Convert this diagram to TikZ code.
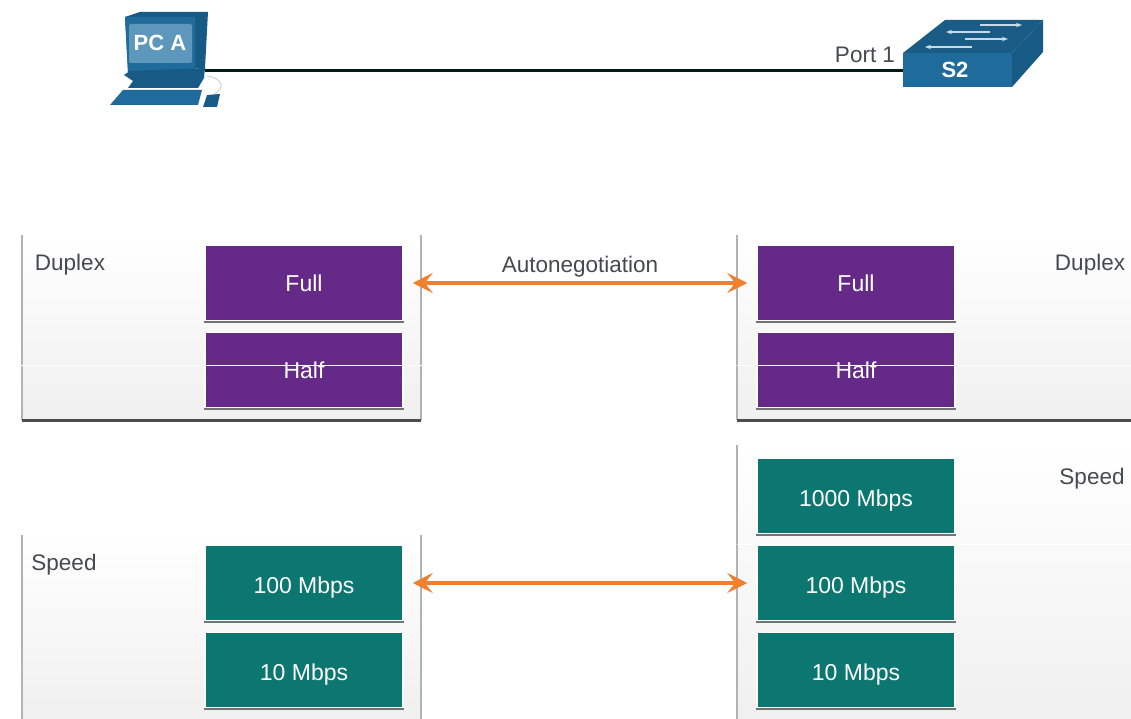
\documentclass[tikz,border=0pt]{standalone}
\usepackage{fontspec}
\setmainfont{Liberation Sans}
\usetikzlibrary{arrows.meta,shadows}
\definecolor{duplexpurple}{HTML}{652A87}
\definecolor{speedteal}{HTML}{0C7670}
\definecolor{negorange}{HTML}{F08030}
\definecolor{ciscoblue}{HTML}{1F6C9C}
\definecolor{ciscolight}{HTML}{5E97BC}
\definecolor{ciscodark}{HTML}{175A85}
\definecolor{labelgrey}{HTML}{454A50}
\tikzset{
    panel/.style={shade, top color=white, bottom color=black!6, minimum height=0pt, inner sep=0pt},
    panelside/.style={draw=black!30, line width=2pt},
    panelbase/.style={draw=black!70, line width=3pt},
    optionbox/.style={draw=white, line width=1.5pt, text=white, inner sep=0pt, minimum width=198pt, minimum height=75pt,
        font=\fontsize{23}{27}\selectfont, drop shadow={shadow xshift=0pt, shadow yshift=-2pt, shadow scale=1.012, fill=black!55, opacity=1}},
    duplexbox/.style={optionbox, fill=duplexpurple},
    speedbox/.style={optionbox, fill=speedteal, text height=26pt, text depth=4.6pt},
    plainlabel/.style={text=labelgrey, inner sep=0pt, font=\fontsize{22.5}{27}\selectfont},
    negotiate/.style={draw=negorange, line width=3.5pt, {Stealth[length=20pt,width=20pt,inset=8pt]}-{Stealth[length=20pt,width=20pt,inset=8pt]}, shorten <=9pt, shorten >=9pt},
    scanline/.style={draw=white, line width=0.7pt}
}
\begin{document}
\begin{tikzpicture}[x=1pt,y=-1pt]
    \useasboundingbox (0,0) rectangle (1131,719);
    \fill[white] (0,0) rectangle (1131,719);

    % pc
    \fill[ciscodark] (125,17) -- (140,12) -- (208,12) -- (205,68) -- (128,72) -- cycle;
    \fill[ciscoblue] (125,17) -- (195,17) -- (195,70) -- (128,72) -- cycle;
    \fill[ciscolight, rounded corners=2pt] (129,24) rectangle (192,63);
    \fill[ciscodark] (124,75) -- (130,71) -- (205,68) -- (204,78) -- (198,88) -- (128,88) -- (133,81) -- cycle;
    \fill[ciscoblue] (110,105) -- (123,90) -- (202,90) -- (198,105) -- cycle;
    \fill[ciscodark] (203,107) -- (207,95) -- (220,94) -- (217,107) -- cycle;
    \draw[black!25, line width=0.6pt] (207,76) .. controls (222,78) and (226,88) .. (214,94);
    \node[text=white, inner sep=0pt, font=\bfseries\fontsize{22}{26}\selectfont] (pcname) at (160,43) {PC A};
    \coordinate (pcport) at (205,71);

    % switch
    \fill[ciscodark] (1012,53) -- (1043,20) -- (1043,52) -- (1012,87) -- cycle;
    \fill[ciscoblue!85!black] (903,53) -- (945,20) -- (1043,20) -- (1012,53) -- cycle;
    \fill[ciscoblue] (903,53) rectangle (1012,87);
    \draw[white!75!ciscoblue, line width=2pt, -{Stealth[length=6pt]}] (980,25) -- (1022,25);
    \draw[white!75!ciscoblue, line width=2pt, -{Stealth[length=6pt]}] (990,32) -- (946,32);
    \draw[white!75!ciscoblue, line width=2pt, -{Stealth[length=6pt]}] (965,39) -- (1008,39);
    \draw[white!75!ciscoblue, line width=2pt, -{Stealth[length=6pt]}] (972,47) -- (925,47);
    \node[text=white, inner sep=0pt, font=\bfseries\fontsize{22}{26}\selectfont] (swname) at (955,70) {S2};
    \coordinate (swport) at (903,71);
    \node[plainlabel] (portname) at (865,55) {Port 1};
    \draw[draw=black!80!teal, line width=3pt] (pcport) -- (swport);

    % panels
    \node[panel, minimum width=399pt, minimum height=185pt] (pcduplex) at (221.5,327.5) {};
    \node[panel, minimum width=394pt, minimum height=185pt] (swduplex) at (934,327.5) {};
    \node[panel, minimum width=399pt, minimum height=184pt] (pcspeed) at (221.5,627) {};
    \node[panel, minimum width=394pt, minimum height=274pt] (swspeed) at (934,582) {};
    \draw[panelside] (pcduplex.south west) -- (pcduplex.north west);
    \draw[panelside] (pcduplex.south east) -- (pcduplex.north east);
    \draw[panelside] (swduplex.south west) -- (swduplex.north west);
    \draw[panelside] (pcspeed.south west) -- (pcspeed.north west);
    \draw[panelside] (pcspeed.south east) -- (pcspeed.north east);
    \draw[panelside] (swspeed.south west) -- (swspeed.north west);
    \draw[panelbase] (pcduplex.south west) -- (pcduplex.south east);
    \draw[panelbase] (swduplex.south west) -- (swduplex.south east);
    \node[plainlabel] (pcduplexname) at (70,265) {Duplex};
    \node[plainlabel] (swduplexname) at (1090,265) {Duplex};
    \node[plainlabel] (pcspeedname) at (64,565) {Speed};
    \node[plainlabel] (swspeedname) at (1092,479) {Speed};

    % options
    \node[duplexbox] (pcfull) at (304,283) {Full};
    \node[duplexbox] (pchalf) at (304,370) {Half};
    \node[duplexbox] (swfull) at (856,283) {Full};
    \node[duplexbox] (swhalf) at (856,370) {Half};
    \node[speedbox] (pc100) at (304,583) {100 Mbps};
    \node[speedbox] (pc10) at (304,670) {10 Mbps};
    \node[speedbox] (sw1000) at (856,496) {1000 Mbps};
    \node[speedbox] (sw100) at (856,583) {100 Mbps};
    \node[speedbox] (sw10) at (856,670) {10 Mbps};

    % negotiation
    \draw[negotiate] (pcfull) -- node[plainlabel, above=4pt] (autoname) {Autonegotiation} (swfull);
    \draw[negotiate] (pc100) -- (sw100);

    \draw[scanline] (20,365) -- (425,365);
    \draw[scanline] (737,365) -- (1131,365);
    \draw[scanline] (737,544) -- (1131,544);
\end{tikzpicture}
\end{document}
